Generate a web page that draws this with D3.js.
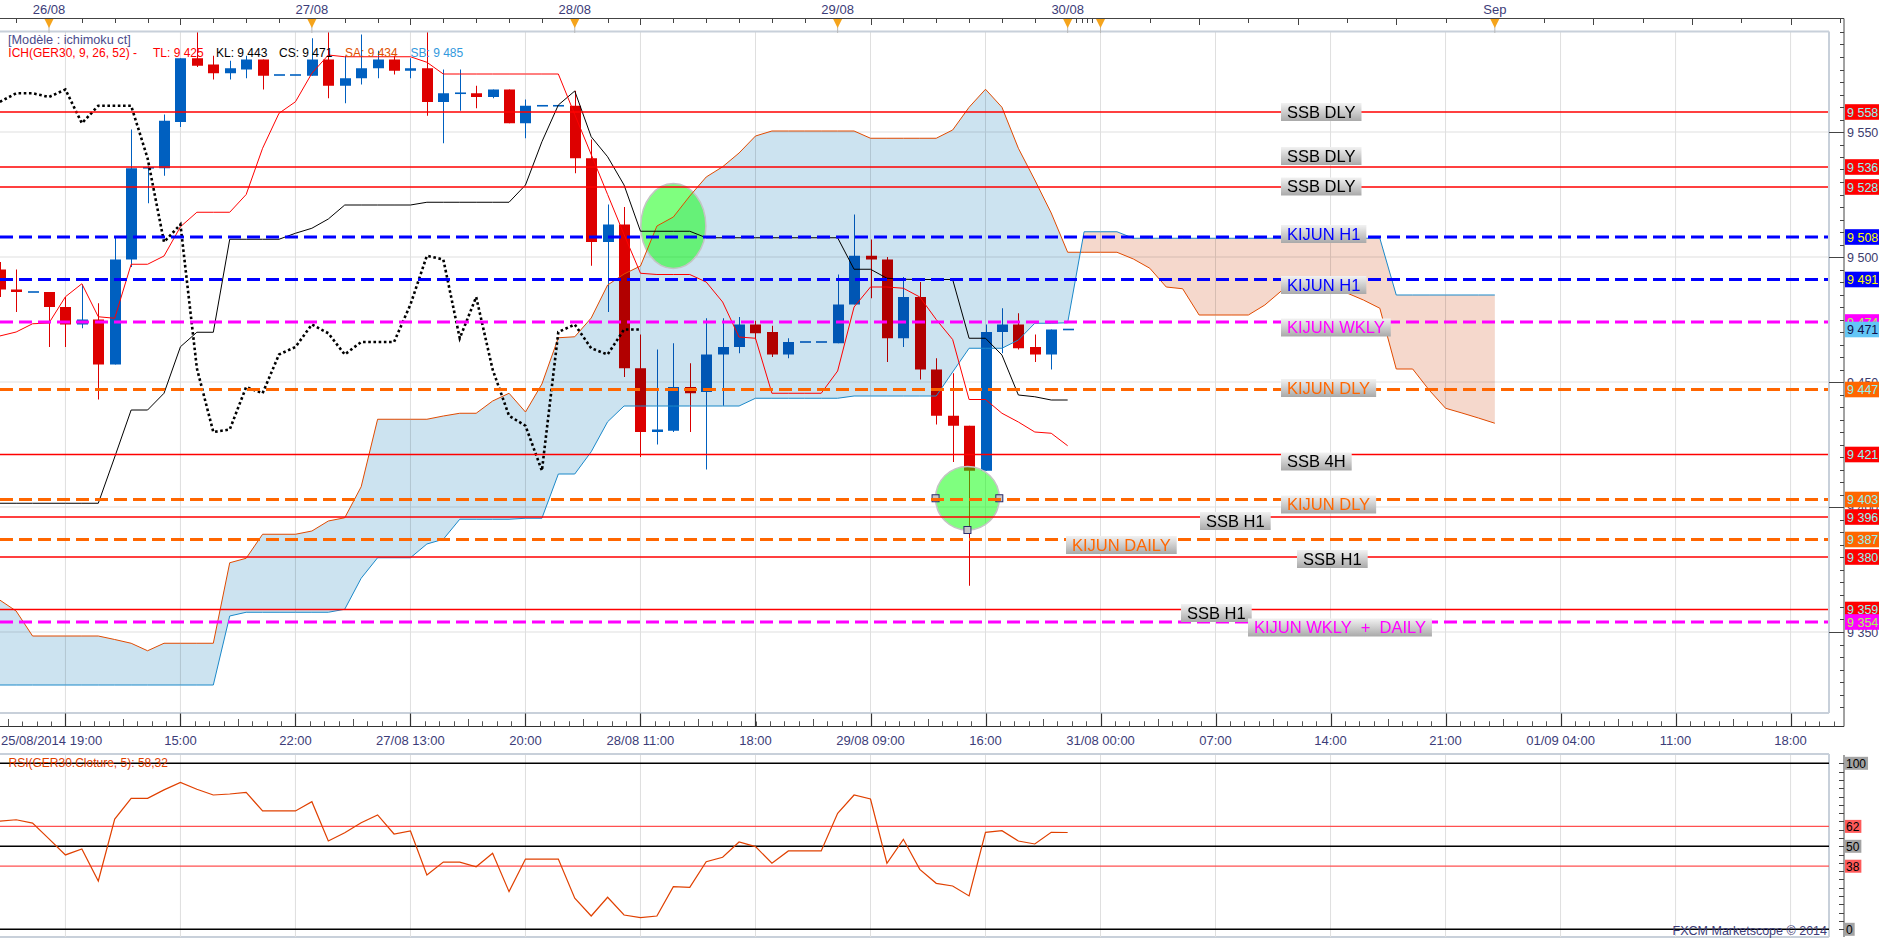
<!DOCTYPE html>
<html>
<head>
<meta charset="utf-8">
<script src="https://cdnjs.cloudflare.com/ajax/libs/d3/7.8.5/d3.min.js"></script>
<style>
  body { margin: 0; background: #fff; }
  svg { display: block; font-family: "Liberation Sans", Arial, sans-serif; }
</style>
</head>
<body>
<svg id="chart" width="1903" height="940"></svg>
<script>
// bar index of the first candle (index 0 = 26/08 first hour)
var firstIdx = -3;

var barOpen  = [9495,9487,9486,9486,9480,9473,9475,9457,9499,9535.5,9535.5,9554,9579.5,9577,9573.5,9575,9579,9572.8,9572.8,9572.5,9579,9568.5,9571.5,9575.5,9579,9574.5,9575.5,9562,9565.5,9565.5,9564,9567,9553.5,9560.5,9560.5,9560.5,9539.5,9506,9513,9455.5,9430,9430.5,9448,9446,9461,9464,9473,9470,9461,9466,9466,9465.5,9481,9500.5,9499,9467.5,9484,9455,9436.5,9432.5,9414.5,9470,9473,9464,9461,9471];
var barHigh  = [9498,9495,9486,9486,9484,9489,9481.5,9508,9551,9536.5,9557,9579.5,9600,9580.5,9578.5,9580.5,9579,9572.8,9572.8,9587.5,9600,9580.5,9589,9582.5,9580.5,9579.5,9600,9575,9575,9568.5,9567,9567,9563,9560.5,9560.5,9566.5,9547,9521,9520,9469,9463,9465.5,9457.5,9475.5,9475.5,9476,9474.5,9472.5,9467.5,9466,9466,9493,9517,9507,9500,9492,9490,9459.5,9453.5,9432.5,9473,9479.5,9477.5,9469,9471,9471];
var barLow   = [9484,9478,9486,9464,9464,9471.5,9443,9457,9496,9521.5,9532.5,9552,9576,9571,9571,9571.5,9567,9572.8,9572.8,9572.5,9563.5,9561.5,9569,9571.5,9573,9571.5,9556.5,9545.5,9558.5,9559.5,9563.5,9553.5,9547.5,9560.5,9560.5,9533.5,9496.5,9478,9452,9420,9425,9430,9430,9415,9440.5,9461.5,9467,9460,9459.5,9466,9466,9465.5,9481,9483.5,9458,9464,9451,9433,9418,9368.5,9414.5,9461.5,9463,9458,9455,9471];
var barClose = [9487,9486,9486,9480,9473,9475,9457,9499,9535.5,9536,9554.5,9579.5,9576.5,9573.5,9575.5,9579,9572.5,9572.8,9572.8,9579,9568.5,9571.5,9575.5,9579,9574.5,9575.5,9562,9565.5,9565.5,9564,9567,9553.5,9560.5,9560.5,9560.5,9539.5,9506,9513,9455.5,9430,9431,9448,9445.5,9461,9464,9473,9469.5,9461,9466,9466,9466,9481,9500.5,9499,9467.5,9484,9455,9436.5,9432.5,9414.5,9470,9473,9463.5,9461,9471,9471];

// ichimoku lines, same bar index as candles
var tenkan = [9468.4,9470,9473.3,9473.6,9484.1,9489.3,9476.1,9475.5,9497.1,9497.1,9500.4,9512.1,9517.9,9517.9,9517.9,9525,9543.5,9557.5,9562.1,9573.5,9580.8,9580.1,9580.1,9580.1,9580.1,9580.1,9577.9,9573.2,9573.2,9573.2,9573.2,9573.2,9573.2,9573.2,9573.2,9557,9541,9525,9509,9493.5,9493,9493,9493,9490,9482,9468,9467.5,9445.5,9445.5,9445.5,9445.5,9454.4,9480,9488,9488,9487.5,9484,9475,9467,9443,9443,9437.5,9434,9430,9429.5,9424.5];
var kijun  = [9401.5,9401.5,9401.5,9401.5,9401.5,9401.5,9401.5,9420,9438.8,9438.8,9445.5,9464.1,9469.9,9469.9,9507.1,9507.1,9507.1,9507.1,9509.5,9511.5,9515.2,9520.8,9520.8,9520.8,9520.8,9520.8,9521.9,9521.9,9521.9,9521.9,9521.9,9521.9,9528.8,9546.1,9560.8,9566.4,9548.1,9540.1,9528.8,9510.3,9510.3,9510.3,9510.3,9507.7,9507.7,9507.7,9507.7,9507.7,9507.7,9507.7,9507.7,9507.7,9495.1,9495.1,9491.5,9491.1,9491,9491,9491,9467.5,9467.5,9460.8,9444.8,9444.1,9442.8,9442.8];
var chikouShift = 26;

// senkou spans, from firstIdx up to bar 88 (shifted forward)
var senkouA = [9362.8,9358.4,9348.4,9348.4,9348.4,9348.4,9348.4,9347,9345.5,9342.5,9345.5,9345.5,9345.5,9345.5,9377.7,9379.5,9389.1,9389.1,9389.1,9390.4,9394.4,9395.7,9408.1,9435.1,9435.1,9435.1,9435.1,9436.4,9437.5,9437.5,9442.4,9445.5,9438,9449.2,9467.7,9468.1,9475.6,9488.8,9493.2,9496.4,9512.4,9516,9524.4,9532,9536.1,9541.6,9548.4,9550.4,9550.4,9550.4,9550.4,9550.4,9550.4,9547.5,9547.5,9547.5,9547.5,9547.5,9550.8,9559.9,9567.1,9559.9,9543.5,9530.8,9517.6,9501.9,9501.9,9501.9,9501.9,9499.2,9495.5,9488,9487.3,9476.8,9476.8,9476.8,9476.8,9480.8,9486.4,9486.4,9486.4,9486.4,9485.6,9482.8,9479.5,9455.2,9455.2,9446.8,9439.5,9437.6,9435.6,9433.5];
var senkouB = [9328.8,9328.8,9328.8,9328.8,9328.8,9328.8,9328.8,9328.8,9328.8,9328.8,9328.8,9328.8,9328.8,9328.8,9356.4,9357.9,9357.9,9357.9,9357.9,9357.9,9357.9,9359.1,9371.5,9379.7,9379.7,9379.7,9385.2,9387.1,9395.1,9395.1,9395.1,9395.1,9395.5,9395.5,9413.2,9413.2,9422.1,9434.1,9440.4,9440.4,9440.4,9440.4,9440.4,9440.4,9440.4,9440.4,9443.5,9443.5,9443.5,9443.5,9443.5,9443.5,9444.4,9444.4,9444.4,9444.4,9444.4,9444.4,9454,9463.5,9463.5,9463.5,9466.8,9473.5,9473.5,9473.7,9510.1,9510.1,9510.1,9507.5,9507.5,9507.5,9507.5,9507.5,9507.5,9507.5,9507.5,9507.5,9507.5,9507.5,9507.5,9507.5,9507.5,9507.5,9507.5,9484.8,9484.8,9484.8,9484.8,9484.8,9484.8,9484.8];

// RSI(5), same bars as candles
var rsiValues = [65.2,66,64,54.5,44.8,48.4,29.1,66.4,78.9,78.9,84,88.5,84.4,80.9,81.5,82.5,71.3,71.3,71.3,76.9,53.2,58.2,64.2,68.9,57.4,59.2,32.7,40.5,40.5,37.7,45.8,22.7,42.3,42.3,42.3,18.7,8,19.3,8.6,7,8,25.7,25.3,40.7,43.4,52.6,49.8,39.8,47.2,47.2,47.2,69.9,80.9,78.5,39.8,54.2,36.1,27.7,26.1,20.1,58.4,59.4,53.2,51.4,58.4,58.3];
var rsiLevels = [100, 62, 50, 38, 0];

// drawn support / resistance levels
var levelPrices = [9558, 9536, 9528, 9508, 9491, 9474, 9447, 9421, 9403, 9396, 9387, 9380, 9359, 9354];
var levelKinds  = ["ssb","ssb","ssb","kh1","kh1","kwk","kdl","ssb","kdl","ssb","kdl","ssb","ssb","kwk"];
var levelNames  = ["SSB DLY","SSB DLY","SSB DLY","KIJUN H1","KIJUN H1","KIJUN WKLY","KIJUN DLY","SSB 4H","KIJUN DLY","SSB H1","KIJUN DAILY","SSB H1","SSB H1","KIJUN WKLY  +  DAILY"];
var lastPrice = 9471;

// time axes
var gridIdx = d3.range(1, 110, 7);
var timeLabels = ["", "15:00","22:00","27/08 13:00","20:00","28/08 11:00","18:00","29/08 09:00","16:00","31/08 00:00","07:00","14:00","21:00","01/09 04:00","11:00","18:00"];
var firstTimeLabel = "25/08/2014 19:00";
var dayIdx = [0, 16, 32, 48, 62, 64, 88];
var dayLabels = ["26/08","27/08","28/08","29/08","30/08","","Sep"];

// highlighted zones (bar index, price, half width in bars, half height in points)
var zoneIdx = [38, 55.9];
var zonePrice = [9512.4, 9403.5];
var zoneRx = [1.98, 1.94];
var zoneRy = [17, 12.7];

var legendParts = ["ICH(GER30, 9, 26, 52) -", "TL: 9 425", "KL: 9 443", "CS: 9 471", "SA: 9 434", "SB: 9 485"];

// ---------------------------------------------------------------
var svg = d3.select("#chart");
var plotR = 1829, plotT = 31.5, plotB = 713, axisX = 1844;
var rsiT = 755, rsiB = 937;

var x = d3.scaleLinear().domain([0, 100]).range([49, 1692]);
var y = d3.scaleLinear().domain([9350, 9550]).range([632, 132]);
var yr = d3.scaleLinear().domain([0, 100]).range([929.3, 763.3]);

function fmt(p) {
  var s = String(Math.round(p));
  return s.slice(0, s.length - 3) + " " + s.slice(-3);
}

var defs = svg.append("defs");
defs.append("clipPath").attr("id", "clipMain").append("rect")
  .attr("x", 0).attr("y", plotT).attr("width", plotR).attr("height", plotB - plotT);
defs.append("clipPath").attr("id", "clipRsi").append("rect")
  .attr("x", 0).attr("y", rsiT).attr("width", plotR).attr("height", rsiB - rsiT);
var grad = defs.append("linearGradient").attr("id", "boxGrad")
  .attr("x1", 0).attr("y1", 0).attr("x2", 0).attr("y2", 1);
grad.append("stop").attr("offset", "0%").attr("stop-color", "#f2f2f2");
grad.append("stop").attr("offset", "100%").attr("stop-color", "#a9a9a9");

// ---------- grids ----------
var main = svg.append("g").attr("clip-path", "url(#clipMain)");
main.selectAll(".vg").data(gridIdx).enter().append("line")
  .attr("x1", d => x(d)).attr("x2", d => x(d))
  .attr("y1", plotT).attr("y2", plotB)
  .attr("stroke", "#dfdfdf").attr("stroke-width", 1);
main.selectAll(".hg").data([9350, 9400, 9450, 9500, 9550]).enter().append("line")
  .attr("x1", 0).attr("x2", plotR)
  .attr("y1", d => y(d)).attr("y2", d => y(d))
  .attr("stroke", "#dfdfdf").attr("stroke-width", 1);

// ---------- candles ----------
var bars = barOpen.map(function(o, i) {
  return { i: firstIdx + i, o: o, h: barHigh[i], l: barLow[i], c: barClose[i] };
});
var cg = main.append("g");
bars.forEach(function(b) {
  var col = b.c >= b.o ? "#0060c0" : "#dd0000";
  var cx = Math.round(x(b.i)) + 0.5;
  cg.append("line").attr("x1", cx).attr("x2", cx)
    .attr("y1", y(b.h)).attr("y2", y(b.l))
    .attr("stroke", col).attr("stroke-width", 1);
  var top = y(Math.max(b.o, b.c)), bot = y(Math.min(b.o, b.c));
  var hgt = Math.max(1.6, bot - top);
  cg.append("rect").attr("x", cx - 5.5).attr("width", 11)
    .attr("y", b.o === b.c ? top - 0.8 : top).attr("height", hgt)
    .attr("fill", col);
});

// ---------- cloud ----------
var cloudPts = [];
senkouA.forEach(function(a, i) {
  var b = senkouB[i];
  if (i > 0) {
    var d0 = senkouA[i - 1] - senkouB[i - 1], d1 = a - b;
    if (d0 * d1 < 0) {
      var t = d0 / (d0 - d1);
      var v = senkouA[i - 1] + t * (a - senkouA[i - 1]);
      cloudPts.push({ i: firstIdx + i - 1 + t, a: v, b: v });
    }
  }
  cloudPts.push({ i: firstIdx + i, a: a, b: b });
});
var cloud = main.append("g").style("mix-blend-mode", "multiply");
cloud.append("path").datum(cloudPts)
  .attr("d", d3.area().x(d => x(d.i)).y0(d => y(d.b)).y1(d => y(Math.max(d.a, d.b))))
  .attr("fill", "#cce3f0");
cloud.append("path").datum(cloudPts)
  .attr("d", d3.area().x(d => x(d.i)).y0(d => y(d.a)).y1(d => y(Math.max(d.a, d.b))))
  .attr("fill", "#f5d8cc");

// ---------- highlighted zones ----------
zoneIdx.forEach(function(zi, k) {
  var cx = x(zi), cy = y(zonePrice[k]);
  var rx = x(zi + zoneRx[k]) - cx, ry = y(zonePrice[k] - zoneRy[k]) - cy;
  main.append("ellipse").attr("cx", cx).attr("cy", cy).attr("rx", rx).attr("ry", ry)
    .attr("fill", "rgba(0,255,0,0.5)").attr("stroke", "#c4c4c4").attr("stroke-width", 1.5);
  if (k === 1) {
    [[cx - rx, cy], [cx + rx, cy], [cx, cy + ry]].forEach(function(p) {
      main.append("rect").attr("x", p[0] - 3.5).attr("y", p[1] - 3.5)
        .attr("width", 7).attr("height", 7)
        .attr("fill", "#c8c8c8").attr("stroke", "#2b2b6b").attr("stroke-width", 1);
    });
  }
});

// ---------- ichimoku lines ----------
function seriesLine(vals, shift) {
  return d3.line().x((d, i) => x(firstIdx + i + shift)).y(d => y(d))(vals);
}
main.append("path").attr("d", seriesLine(senkouA, 0))
  .attr("fill", "none").attr("stroke", "#e04a00").attr("stroke-width", 1);
main.append("path").attr("d", seriesLine(senkouB, 0))
  .attr("fill", "none").attr("stroke", "#1a88c9").attr("stroke-width", 1);
main.append("path").attr("d", seriesLine(kijun, 0))
  .attr("fill", "none").attr("stroke", "#000").attr("stroke-width", 1);
main.append("path").attr("d", seriesLine(tenkan, 0))
  .attr("fill", "none").attr("stroke", "#ff0000").attr("stroke-width", 1);
main.append("path").attr("d", seriesLine(barClose, -chikouShift))
  .attr("fill", "none").attr("stroke", "#000").attr("stroke-width", 2.6)
  .attr("stroke-dasharray", "2.6 2.6");

// ---------- level lines ----------
var kindStyle = {
  ssb: { line: "#ff0000", w: 1.3, dash: null, text: "#000000", tag: "#ff0000", tagText: "#8ff4f4" },
  kh1: { line: "#0000ff", w: 3, dash: "13 6", text: "#0000ff", tag: "#0000ff", tagText: "#ffff00" },
  kwk: { line: "#ff00ff", w: 3, dash: "13 6", text: "#ff00ff", tag: "#ff00ff", tagText: "#a8ff50" },
  kdl: { line: "#ff6600", w: 3, dash: "13 6", text: "#ff6600", tag: "#ff6600", tagText: "#8ff4f4" }
};
levelPrices.forEach(function(p, k) {
  var st = kindStyle[levelKinds[k]];
  main.append("line").attr("x1", 0).attr("x2", plotR)
    .attr("y1", y(p)).attr("y2", y(p))
    .attr("stroke", st.line).attr("stroke-width", st.w)
    .attr("stroke-dasharray", st.dash);
});

// label boxes (placed by hand on the original chart)
var boxX   = [1281, 1281, 1281, 1281, 1281, 1281, 1281, 1281, 1281, 1200, 1066, 1297, 1181, 1248];
var boxTop = [103, 147, 177.5, 225, 276, 318.5, 379, 452.5, 495.5, 512, 536, 550, 604, 618.5];
levelNames.forEach(function(name, k) {
  var st = kindStyle[levelKinds[k]];
  var g = main.append("g");
  var r = g.append("rect").attr("x", boxX[k]).attr("y", boxTop[k]).attr("height", 18)
    .attr("fill", "url(#boxGrad)");
  var t = g.append("text").attr("x", boxX[k] + 6).attr("y", boxTop[k] + 14.5)
    .attr("font-size", "16.5px").attr("fill", st.text)
    .style("white-space", "pre").text(name);
  r.attr("width", t.node().getComputedTextLength() + 12);
});

// ---------- legend ----------
svg.append("text").attr("x", 8).attr("y", 43.5).attr("font-size", "12.7px")
  .attr("fill", "#4a4a8c").text("[Modèle : ichimoku ct]");
var legendX = [8.3, 153, 216, 279, 345, 410.5];
var legendCol = ["#ff0000", "#ff0000", "#000000", "#000000", "#e05000", "#3399dd"];
legendParts.forEach(function(s, k) {
  svg.append("text").attr("x", legendX[k]).attr("y", 56.5).attr("font-size", "12px")
    .attr("fill", legendCol[k]).text(s);
});

// ---------- frames ----------
svg.append("line").attr("x1", 0).attr("x2", plotR).attr("y1", plotT).attr("y2", plotT)
  .attr("stroke", "#c8d0da").attr("stroke-width", 2);
svg.append("line").attr("x1", 0).attr("x2", plotR).attr("y1", plotB).attr("y2", plotB)
  .attr("stroke", "#c8d0da").attr("stroke-width", 2);
svg.append("line").attr("x1", plotR).attr("x2", plotR).attr("y1", plotT).attr("y2", plotB)
  .attr("stroke", "#c8d0da").attr("stroke-width", 2);

// ---------- top axis ----------
svg.append("line").attr("x1", 0).attr("x2", axisX).attr("y1", 18.5).attr("y2", 18.5)
  .attr("stroke", "#444").attr("stroke-width", 1);
var topTicks = d3.range(-2, 63, 2).concat([62.5, 62.85, 63.2, 63.46]).concat(d3.range(64, 110, 3));
svg.selectAll(".tt").data(topTicks).enter().append("line")
  .attr("x1", d => Math.round(x(d)) + 0.5).attr("x2", d => Math.round(x(d)) + 0.5)
  .attr("y1", 18.5)
  .attr("y2", d => ((d >= 8 && d < 63 && (d - 8) % 14 === 0) || (d >= 64 && (d - 64) % 6 === 0)) ? 25 : 23)
  .attr("stroke", "#444").attr("stroke-width", 1);
dayIdx.forEach(function(di, k) {
  var cx = x(di);
  svg.append("line").attr("x1", cx).attr("x2", cx).attr("y1", 24).attr("y2", 33)
    .attr("stroke", "#b8b8b8").attr("stroke-width", 1);
  svg.append("path").attr("d", "M" + (cx - 4.5) + ",19L" + (cx + 4.5) + ",19L" + cx + ",28Z")
    .attr("fill", "#f5a41c");
  if (dayLabels[k]) {
    svg.append("text").attr("x", cx).attr("y", 13.5).attr("text-anchor", "middle")
      .attr("font-size", "13px").attr("fill", "#3c3c78").text(dayLabels[k]);
  }
});

// ---------- bottom time axis ----------
svg.append("line").attr("x1", 0).attr("x2", axisX).attr("y1", 726.5).attr("y2", 726.5)
  .attr("stroke", "#333").attr("stroke-width", 1.2);
var minorX = [];
gridIdx.forEach(function(g) {
  for (var s = -8; s < 8; s++) if (s !== 0) minorX.push({ v: x(g) + s * 115 / 8, m: Math.abs(s) === 4 });
});
svg.selectAll(".bt").data(minorX.filter(d => d.v > 0 && d.v < axisX)).enter().append("line")
  .attr("x1", d => Math.round(d.v) + 0.5).attr("x2", d => Math.round(d.v) + 0.5)
  .attr("y1", d => d.m ? 719 : 721.5).attr("y2", 726.5)
  .attr("stroke", "#555").attr("stroke-width", 1);
svg.selectAll(".bm").data(gridIdx).enter().append("line")
  .attr("x1", d => Math.round(x(d)) + 0.5).attr("x2", d => Math.round(x(d)) + 0.5)
  .attr("y1", 713.5).attr("y2", 726.5)
  .attr("stroke", "#333").attr("stroke-width", 1.2);
svg.selectAll(".bl").data(gridIdx.filter((d, k) => timeLabels[k])).enter().append("text")
  .attr("x", d => x(d)).attr("y", 744.5).attr("text-anchor", "middle")
  .attr("font-size", "13px").attr("fill", "#3c3c78")
  .text(d => timeLabels[gridIdx.indexOf(d)]);
svg.append("text").attr("x", 1).attr("y", 744.5).attr("font-size", "13px")
  .attr("fill", "#3c3c78").text(firstTimeLabel);

// ---------- right price axis ----------
svg.append("line").attr("x1", axisX).attr("x2", axisX).attr("y1", 18.5).attr("y2", 726.5)
  .attr("stroke", "#444").attr("stroke-width", 1);
var priceTicks = d3.range(9320, 9591, 5);
svg.selectAll(".pt").data(priceTicks).enter().append("line")
  .attr("x1", d => d % 50 === 0 ? plotR : axisX - 4).attr("x2", axisX)
  .attr("y1", d => Math.round(y(d)) + 0.5).attr("y2", d => Math.round(y(d)) + 0.5)
  .attr("stroke", "#444").attr("stroke-width", 1);
svg.selectAll(".pl").data([9350, 9400, 9450, 9500, 9550]).enter().append("text")
  .attr("x", axisX + 3).attr("y", d => y(d) + 4.5)
  .attr("font-size", "12.5px").attr("fill", "#3c3c6e").text(d => fmt(d));

// value tags
var tagPrices = levelPrices.slice(0, 6).concat([lastPrice]).concat(levelPrices.slice(6));
var tagKinds = levelKinds.slice(0, 6).concat(["last"]).concat(levelKinds.slice(6));
tagPrices.forEach(function(p, k) {
  var st = tagKinds[k] === "last" ? { tag: "#63c6f6", tagText: "#10104a" } : kindStyle[tagKinds[k]];
  svg.append("rect").attr("x", axisX + 1).attr("y", y(p) - 7.8).attr("width", 34).attr("height", 15.6)
    .attr("fill", st.tag);
  svg.append("text").attr("x", axisX + 3).attr("y", y(p) + 4.6)
    .attr("font-size", "12.5px").attr("fill", st.tagText).text(fmt(p));
});

// ---------- RSI panel ----------
svg.append("line").attr("x1", 0).attr("x2", plotR).attr("y1", 754).attr("y2", 754)
  .attr("stroke", "#c8d0da").attr("stroke-width", 2);
svg.append("line").attr("x1", 0).attr("x2", plotR).attr("y1", rsiB).attr("y2", rsiB)
  .attr("stroke", "#c8d0da").attr("stroke-width", 2);
svg.append("line").attr("x1", plotR).attr("x2", plotR).attr("y1", 754).attr("y2", rsiB)
  .attr("stroke", "#c8d0da").attr("stroke-width", 2);
var rsiG = svg.append("g").attr("clip-path", "url(#clipRsi)");
rsiG.selectAll(".rg").data(gridIdx).enter().append("line")
  .attr("x1", d => x(d)).attr("x2", d => x(d)).attr("y1", rsiT).attr("y2", rsiB)
  .attr("stroke", "#dfdfdf").attr("stroke-width", 1);
rsiLevels.forEach(function(v) {
  var red = v === 62 || v === 38;
  rsiG.append("line").attr("x1", 0).attr("x2", plotR).attr("y1", yr(v)).attr("y2", yr(v))
    .attr("stroke", red ? "#ff5050" : "#000").attr("stroke-width", red ? 1.3 : 1.6);
});
rsiG.append("path").datum(rsiValues)
  .attr("d", d3.line().x((d, i) => x(firstIdx + i)).y(d => yr(d)))
  .attr("fill", "none").attr("stroke", "#e04000").attr("stroke-width", 1.2);
svg.append("text").attr("x", 8.5).attr("y", 767).attr("font-size", "12px")
  .attr("fill", "#e04000").text("RSI(GER30.Cloture, 5): 58,32");

svg.append("line").attr("x1", axisX).attr("x2", axisX).attr("y1", rsiT).attr("y2", rsiB)
  .attr("stroke", "#444").attr("stroke-width", 1);
svg.selectAll(".rt").data(d3.range(0, 101, 5)).enter().append("line")
  .attr("x1", axisX - 5).attr("x2", axisX)
  .attr("y1", d => Math.round(yr(d)) + 0.5).attr("y2", d => Math.round(yr(d)) + 0.5)
  .attr("stroke", "#444").attr("stroke-width", 1);
rsiLevels.forEach(function(v) {
  var red = v === 62 || v === 38;
  var g = svg.append("g");
  var r = g.append("rect").attr("x", axisX + 1).attr("y", yr(v) - 6.5)
    .attr("height", 13).attr("fill", red ? "#ff5a5a" : "#a3a3a3");
  var t = g.append("text").attr("x", axisX + 2).attr("y", yr(v) + 4.3)
    .attr("font-size", "12px").attr("fill", "#000").text(v);
  r.attr("width", t.node().getComputedTextLength() + 3);
});
svg.append("text").attr("x", 1827).attr("y", 935).attr("text-anchor", "end")
  .attr("font-size", "12.5px").attr("fill", "#3c3c78").text("FXCM Marketscope © 2014");
</script>
</body>
</html>
